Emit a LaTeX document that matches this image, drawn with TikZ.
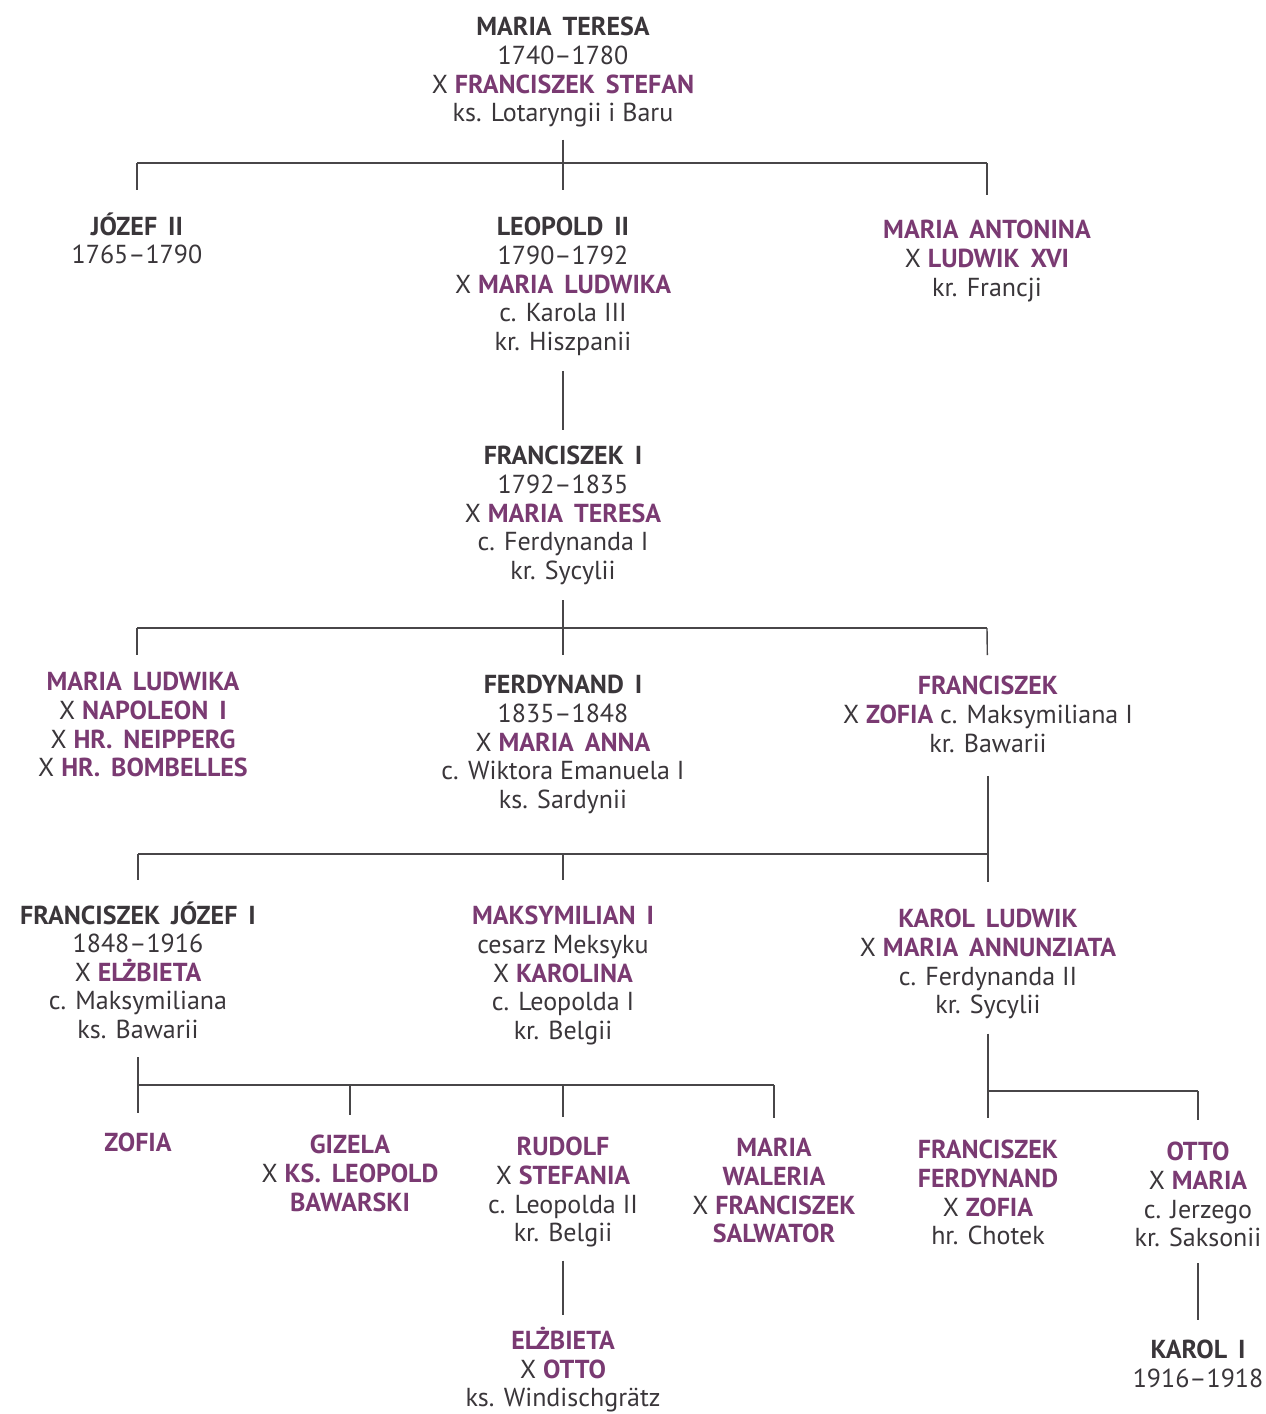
\documentclass[tikz,border=0pt]{standalone}
\usepackage{fontspec}
\setmainfont{PT Sans}
\usepackage{tikz}
\usepackage{xcolor}

\definecolor{purp}{RGB}{122,58,114}
\definecolor{tekst}{RGB}{58,54,58}
\definecolor{kreska}{RGB}{72,70,72}

\newcommand{\szeroko}{\spaceskip=0.42em plus 0.1em\relax}
\newcommand{\krol}[1]{\textbf{\szeroko #1}}
\newcommand{\osoba}[1]{\textcolor{purp}{\textbf{\szeroko #1}}}

\tikzset{
  osobnik/.style={anchor=north, align=center, inner sep=0pt, text=tekst,
    font={\fontsize{13}{14.3}\selectfont}},
  linia/.style={draw=kreska, line width=0.7pt}
}

\begin{document}
\begin{tikzpicture}[x=0.5pt,y=-0.5pt]
        \useasboundingbox[fill=white] (0,0) rectangle (1265,1414);

        % bar junctions
        \coordinate (Aw) at (137,163);
        \coordinate (Ae) at (987,163);
        \coordinate (Ac) at (563,190);
        \coordinate (Cw) at (137,628);
        \coordinate (Ce) at (987,628);
        \coordinate (Cc) at (563,655);
        \coordinate (Dw) at (138,854);
        \coordinate (Dm) at (563,854);
        \coordinate (De) at (988,854);
        \coordinate (Ew) at (138,1085);
        \coordinate (Eg) at (350,1085);
        \coordinate (Er) at (563,1085);
        \coordinate (Ee) at (774,1085);
        \coordinate (Fw) at (988,1091);
        \coordinate (Fe) at (1198,1091);

        \node[osobnik] (mt) at (563,17) {\krol{MARIA TERESA}\\1740–1780\\X \osoba{FRANCISZEK STEFAN}\\ks. Lotaryngii i Baru};

        \node[osobnik] (jz) at (137,212) {\krol{JÓZEF II}\\1765–1790};
        \node[osobnik] (lp) at (563,217) {\krol{LEOPOLD II}\\1790–1792\\X \osoba{MARIA LUDWIKA}\\c. Karola III\\kr. Hiszpanii};
        \node[osobnik] (ma) at (987,220) {\osoba{MARIA ANTONINA}\\X \osoba{LUDWIK XVI}\\kr. Francji};

        \node[osobnik] (f1) at (563,446) {\krol{FRANCISZEK I}\\1792–1835\\X \osoba{MARIA TERESA}\\c. Ferdynanda I\\kr. Sycylii};

        \node[osobnik] (ml) at (143,672) {\osoba{MARIA LUDWIKA}\\X \osoba{NAPOLEON I}\\X \osoba{HR. NEIPPERG}\\X \osoba{HR. BOMBELLES}};
        \node[osobnik] (fd) at (563,675) {\krol{FERDYNAND I}\\1835–1848\\X \osoba{MARIA ANNA}\\c. Wiktora Emanuela I\\ks. Sardynii};
        \node[osobnik] (fr) at (988,676) {\osoba{FRANCISZEK}\\X \osoba{ZOFIA} c. Maksymiliana I\\kr. Bawarii};

        \node[osobnik] (fj) at (138,901) {\krol{FRANCISZEK JÓZEF I}\\1848–1916\\X \osoba{ELŻBIETA}\\c. Maksymiliana\\ks. Bawarii};
        \node[osobnik] (mx) at (563,906) {\osoba{MAKSYMILIAN I}\\cesarz Meksyku\\X \osoba{KAROLINA}\\c. Leopolda I\\kr. Belgii};
        \node[osobnik] (kl) at (988,909) {\osoba{KAROL LUDWIK}\\X \osoba{MARIA ANNUNZIATA}\\c. Ferdynanda II\\kr. Sycylii};

        \node[osobnik] (zf) at (138,1133) {\osoba{ZOFIA}};
        \node[osobnik] (gz) at (350,1135) {\osoba{GIZELA}\\X \osoba{KS. LEOPOLD}\\\osoba{BAWARSKI}};
        \node[osobnik] (rd) at (563,1137) {\osoba{RUDOLF}\\X \osoba{STEFANIA}\\c. Leopolda II\\kr. Belgii};
        \node[osobnik] (mw) at (774,1138) {\osoba{MARIA}\\\osoba{WALERIA}\\X \osoba{FRANCISZEK}\\\osoba{SALWATOR}};
        \node[osobnik] (ff) at (988,1140) {\osoba{FRANCISZEK}\\\osoba{FERDYNAND}\\X \osoba{ZOFIA}\\hr. Chotek};
        \node[osobnik] (ot) at (1198,1142) {\osoba{OTTO}\\X \osoba{MARIA}\\c. Jerzego\\kr. Saksonii};

        \node[osobnik] (el) at (563,1327) {\osoba{ELŻBIETA}\\X \osoba{OTTO}\\ks. Windischgrätz};
        \node[osobnik] (k1) at (1198,1340) {\krol{KAROL I}\\1916–1918};

        % Maria Teresa
        \draw[linia, shorten <=6pt] (mt) -- (Ac);
        \draw[linia] (Aw) -- (Ae);
        \draw[linia, shorten >=11pt] (Aw) -- (jz);
        \draw[linia, shorten >=12.5pt] (Ae) -- (ma);
        % Leopold II
        \draw[linia, shorten <=7.5pt, shorten >=8pt] (lp) -- (f1);
        % Franciszek I
        \draw[linia, shorten <=7.5pt] (f1) -- (Cc);
        \draw[linia] (Cw) -- (Ce);
        \draw[linia, shorten >=8.5pt] (Cw) -- (Cw |- ml.north);
        \draw[linia, shorten >=10.5pt] (Ce) -- (fr);
        % Franciszek
        \draw[linia, shorten <=11.5pt, shorten >=13.5pt] (fr) -- (kl);
        \draw[linia] (Dw) -- (De);
        \draw[linia, shorten >=10.5pt] (Dw) -- (fj);
        \draw[linia, shorten >=13pt] (Dm) -- (mx);
        % Franciszek Jozef I
        \draw[linia, shorten <=9pt, shorten >=10pt] (fj) -- (zf);
        \draw[linia] (Ew) -- (Ee);
        \draw[linia, shorten >=10pt] (Eg) -- (gz);
        \draw[linia, shorten >=10pt] (Er) -- (rd);
        \draw[linia, shorten >=10pt] (Ee) -- (mw);
        % Karol Ludwik
        \draw[linia, shorten <=7pt, shorten >=11pt] (kl) -- (ff);
        \draw[linia] (Fw) -- (Fe);
        \draw[linia, shorten >=11pt] (Fe) -- (ot);
        % Rudolf, Otto
        \draw[linia, shorten <=6.5pt, shorten >=6pt] (rd) -- (el);
        \draw[linia, shorten <=8pt, shorten >=10pt] (ot) -- (k1);
\end{tikzpicture}
\end{document}
